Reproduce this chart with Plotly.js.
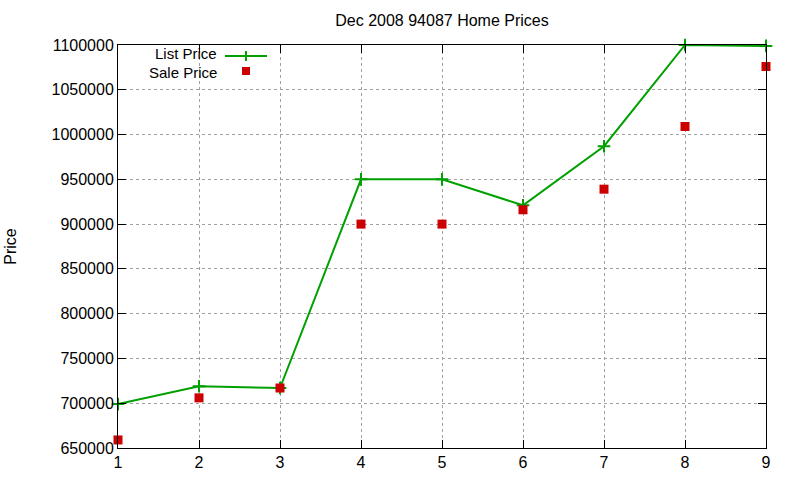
<!DOCTYPE html>
<html>
<head>
<meta charset="utf-8">
<script src="https://cdn.plot.ly/plotly-3.0.1.min.js"></script>
<style>html,body{margin:0;padding:0;background:#fff;}#chart{width:800px;height:480px;}</style>
</head>
<body>
<div id="chart"></div>
<script>
const months = [1, 2, 3, 4, 5, 6, 7, 8, 9];
const listPrice = [699000, 719000, 717000, 950000, 950000, 921000, 987000, 1100000, 1099000];
const salePrice = [659000, 706000, 717000, 900000, 900000, 916000, 939000, 1009000, 1076000];
const yTicks = [650000, 700000, 750000, 800000, 850000, 900000, 950000, 1000000, 1050000, 1100000];
const xTicks = [1, 2, 3, 4, 5, 6, 7, 8, 9];

const green = '#00a000';
const red = '#cc0000';
const font = 'Liberation Sans, Arial, sans-serif';

const traces = [
  {
    x: months, y: listPrice, mode: 'lines+markers', name: 'List Price',
    line: {color: green, width: 2},
    marker: {symbol: 'cross-thin-open', size: 9, color: green, line: {color: green, width: 2}},
    cliponaxis: false, showlegend: false
  },
  {
    x: months, y: salePrice, mode: 'markers', name: 'Sale Price',
    marker: {symbol: 'square', size: 9, color: red},
    cliponaxis: false, showlegend: false
  }
];

const axisCommon = {
  showline: true, linecolor: '#000', linewidth: 1, mirror: 'ticks',
  ticks: 'inside', ticklen: 8, tickcolor: '#000', tickwidth: 1,
  showgrid: true, gridcolor: '#a0a0a0', griddash: 'dot', gridwidth: 1,
  zeroline: false, tickfont: {family: font, size: 16, color: '#000'}
};

const layout = {
  width: 800, height: 480,
  margin: {l: 118, r: 34, t: 45, b: 32},
  paper_bgcolor: '#fff', plot_bgcolor: '#fff',
  title: {text: 'Dec 2008 94087 Home Prices', font: {family: font, size: 16, color: '#000'},
          x: 0.5525, xanchor: 'center', y: 0.958, yanchor: 'middle'},
  xaxis: Object.assign({}, axisCommon, {range: [1, 9], tickvals: xTicks, ticktext: xTicks.map(String)}),
  yaxis: Object.assign({}, axisCommon, {range: [650000, 1100000], tickvals: yTicks,
          ticktext: yTicks.map(String),
          title: {text: 'Price', font: {family: font, size: 16, color: '#000'}, standoff: 30}}),
  showlegend: false,
  annotations: [
    {xref: 'paper', yref: 'paper', x: (219 - 118) / 648, y: 1 - (54 - 45) / 403, text: 'List Price',
     showarrow: false, xanchor: 'right', yanchor: 'middle', font: {family: font, size: 15, color: '#000'}},
    {xref: 'paper', yref: 'paper', x: (219 - 118) / 648, y: 1 - (72.5 - 45) / 403, text: 'Sale Price',
     showarrow: false, xanchor: 'right', yanchor: 'middle', font: {family: font, size: 15, color: '#000'}}
  ],
  shapes: [
    {type: 'line', xref: 'paper', yref: 'paper', x0: (225 - 118) / 648, x1: (267 - 118) / 648,
     y0: 1 - (56 - 45) / 403, y1: 1 - (56 - 45) / 403, line: {color: green, width: 2}},
    {type: 'line', xref: 'paper', yref: 'paper', x0: (246 - 118) / 648, x1: (246 - 118) / 648,
     y0: 1 - (51 - 45) / 403, y1: 1 - (61 - 45) / 403, line: {color: green, width: 2}},
    {type: 'rect', xref: 'paper', yref: 'paper', x0: (242 - 118) / 648, x1: (250 - 118) / 648,
     y0: 1 - (67 - 45) / 403, y1: 1 - (75 - 45) / 403, line: {width: 0}, fillcolor: red}
  ]
};

Plotly.newPlot('chart', traces, layout, {staticPlot: true, displayModeBar: false});
</script>
</body>
</html>
